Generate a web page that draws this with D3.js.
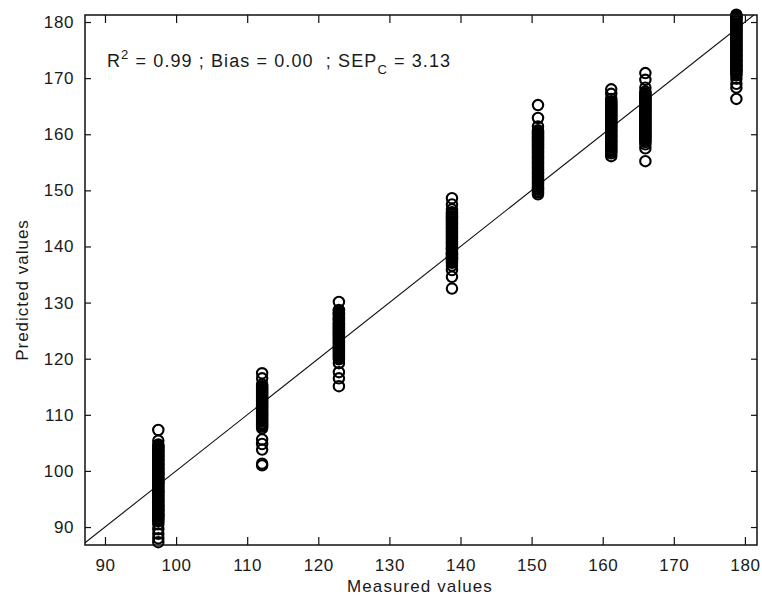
<!DOCTYPE html>
<html>
<head>
<meta charset="utf-8">
<script src="https://cdn.jsdelivr.net/npm/d3@7"></script>
<style>
  html, body { margin: 0; padding: 0; background: #fff; }
  svg { display: block; }
  text { font-family: "Liberation Sans", Arial, sans-serif; fill: #1a1a1a; }
</style>
</head>
<body>
<svg id="chart" width="762" height="599"></svg>
<script>
// Reference (measured) levels and the predicted values observed at each level
const measuredLevels = [97.5, 112.1, 122.9, 138.8, 150.9, 161.2, 166.0, 178.8];

const predictedAt97 = [107.3, 105.4, 104.7, 104.5, 104.2, 104.1, 103.8, 103.5, 103.4, 103.1, 102.9, 102.6,
  102.5, 102.2, 102.0, 101.8, 101.5, 101.3, 101.1, 100.9, 100.6, 100.4, 100.2, 99.9, 99.7, 99.5, 99.3, 99.0,
  98.8, 98.6, 98.3, 98.1, 97.9, 97.7, 97.4, 97.2, 97.0, 96.7, 96.5, 96.3, 96.1, 95.8, 95.6, 95.4, 95.1, 94.9,
  94.7, 94.5, 94.2, 94.0, 93.8, 93.6, 93.3, 93.1, 92.9, 92.7, 92.4, 92.2, 92.0, 91.8, 91.5, 91.3, 91.0, 90.5,
  89.6, 88.8, 88.0, 87.3];
const predictedAt112 = [117.4, 116.5, 115.4, 115.1, 114.9, 114.7, 114.4, 114.2, 114.0, 113.7, 113.5, 113.3,
  113.1, 112.8, 112.6, 112.4, 112.2, 111.9, 111.7, 111.5, 111.3, 111.0, 110.8, 110.6, 110.3, 110.1, 109.9,
  109.7, 109.4, 109.2, 109.0, 108.8, 108.5, 108.3, 108.1, 107.9, 107.6, 105.6, 104.8, 103.8, 101.3, 101.0];
const predictedAt123 = [130.1, 128.7, 128.5, 128.2, 128.0, 127.8, 127.6, 127.3, 127.1, 126.9, 126.7, 126.4,
  126.2, 126.0, 125.8, 125.5, 125.3, 125.1, 124.9, 124.6, 124.4, 124.2, 124.0, 123.7, 123.5, 123.3, 123.1,
  122.8, 122.6, 122.4, 122.2, 121.9, 121.7, 121.5, 121.3, 121.0, 120.8, 120.6, 120.4, 120.1, 119.9, 119.2,
  117.6, 116.5, 115.1];
const predictedAt139 = [148.6, 147.5, 146.6, 146.1, 145.9, 145.7, 145.4, 145.2, 145.0, 144.8, 144.5, 144.3,
  144.1, 143.9, 143.6, 143.4, 143.2, 143.0, 142.7, 142.5, 142.3, 142.1, 141.8, 141.6, 141.4, 141.2, 140.9,
  140.7, 140.5, 140.3, 140.0, 139.8, 139.6, 139.4, 139.1, 138.9, 138.7, 138.5, 138.2, 138.0, 137.8, 137.6,
  137.3, 137.1, 136.6, 135.8, 134.6, 132.5];
const predictedAt151 = [165.2, 162.9, 161.4, 160.7, 160.4, 160.2, 160.0, 159.7, 159.5, 159.3, 159.1, 158.8,
  158.6, 158.4, 158.2, 157.9, 157.7, 157.5, 157.3, 157.0, 156.8, 156.6, 156.4, 156.1, 155.9, 155.7, 155.5,
  155.2, 155.0, 154.8, 154.6, 154.3, 154.1, 153.9, 153.7, 153.4, 153.2, 153.0, 152.8, 152.5, 152.3, 152.1,
  151.9, 151.6, 151.4, 151.2, 151.0, 150.7, 150.5, 150.3, 150.1, 149.8, 149.6, 149.3];
const predictedAt161 = [168.0, 167.2, 166.3, 165.9, 165.7, 165.4, 165.2, 165.0, 164.8, 164.5, 164.3, 164.1,
  163.9, 163.6, 163.4, 163.2, 163.0, 162.7, 162.5, 162.3, 162.1, 161.8, 161.6, 161.4, 161.2, 160.9, 160.7,
  160.5, 160.3, 160.0, 159.8, 159.6, 159.4, 159.1, 158.9, 158.7, 158.5, 158.2, 158.0, 157.8, 157.6, 157.3,
  157.1, 156.9, 156.6, 156.1];
const predictedAt166 = [170.9, 169.7, 168.3, 167.6, 167.3, 167.0, 166.8, 166.6, 166.3, 166.1, 165.9, 165.7,
  165.4, 165.2, 165.0, 164.8, 164.5, 164.3, 164.1, 163.9, 163.6, 163.4, 163.2, 163.0, 162.7, 162.5, 162.3,
  162.1, 161.8, 161.6, 161.4, 161.2, 160.9, 160.7, 160.5, 160.3, 160.0, 159.8, 159.6, 159.4, 159.1, 158.9,
  158.6, 158.2, 157.5, 155.2];
const predictedAt179 = [181.3, 181.1, 180.9, 180.7, 180.5, 180.3, 180.1, 179.8, 179.6, 179.4, 179.2, 178.9,
  178.7, 178.5, 178.3, 178.0, 177.8, 177.6, 177.4, 177.1, 176.9, 176.7, 176.5, 176.2, 176.0, 175.8, 175.6,
  175.3, 175.1, 174.9, 174.7, 174.4, 174.2, 174.0, 173.8, 173.5, 173.3, 173.1, 172.9, 172.6, 172.4, 172.2,
  172.0, 171.7, 171.5, 171.3, 171.1, 170.8, 170.5, 169.9, 169.0, 168.3, 166.3];

const predictedByLevel = [predictedAt97, predictedAt112, predictedAt123, predictedAt139,
  predictedAt151, predictedAt161, predictedAt166, predictedAt179];

const xTicks = [90, 100, 110, 120, 130, 140, 150, 160, 170, 180];
const yTicks = [90, 100, 110, 120, 130, 140, 150, 160, 170, 180];
const xDomain = [87.19, 181.7];
const yDomain = [86.8, 181.25];

const xTitle = "Measured values";
const yTitle = "Predicted values";

// Flatten into (measured, predicted) points
const points = [];
measuredLevels.forEach((m, i) => predictedByLevel[i].forEach(p => points.push({ m, p })));

const svg = d3.select("#chart");
const plot = { left: 85, right: 757, top: 15, bottom: 545 };

const x = d3.scaleLinear().domain(xDomain).range([plot.left, plot.right]);
const y = d3.scaleLinear().domain(yDomain).range([plot.bottom, plot.top]);

svg.append("rect").attr("width", 762).attr("height", 599).attr("fill", "#fff");

svg.append("defs").append("clipPath").attr("id", "plot-clip")
  .append("rect")
  .attr("x", plot.left).attr("y", plot.top)
  .attr("width", plot.right - plot.left).attr("height", plot.bottom - plot.top);

// 1:1 line
const lo = Math.max(xDomain[0], yDomain[0]);
const hi = Math.min(xDomain[1], yDomain[1]);
svg.append("line")
  .attr("clip-path", "url(#plot-clip)")
  .attr("x1", x(lo)).attr("y1", y(lo))
  .attr("x2", x(hi)).attr("y2", y(hi))
  .attr("stroke", "#111").attr("stroke-width", 1.1);

// Scatter markers (open circles)
svg.append("g")
  .selectAll("circle")
  .data(points)
  .join("circle")
  .attr("cx", d => x(d.m))
  .attr("cy", d => y(d.p))
  .attr("r", 5.2)
  .attr("fill", "none")
  .attr("stroke", "#000")
  .attr("stroke-width", 2.1);

// Axes: ticks point inward and are mirrored on the top and right sides
const fontSize = 17;
const xAxisB = d3.axisBottom(x).tickValues(xTicks).tickSize(-8).tickPadding(14).tickSizeOuter(0);
const xAxisT = d3.axisTop(x).tickValues(xTicks).tickSize(-8).tickFormat("").tickSizeOuter(0);
const yAxisL = d3.axisLeft(y).tickValues(yTicks).tickSize(-6).tickPadding(11).tickSizeOuter(0);
const yAxisR = d3.axisRight(y).tickValues(yTicks).tickSize(-6).tickFormat("").tickSizeOuter(0);

function styleAxis(g) {
  g.select(".domain").remove();
  g.selectAll(".tick line").attr("stroke", "#111").attr("stroke-width", 1.2);
  g.selectAll(".tick text")
    .attr("font-size", fontSize)
    .attr("font-family", "Liberation Sans, Arial, sans-serif")
    .attr("letter-spacing", 0.6)
    .attr("fill", "#1a1a1a");
}

svg.append("g").attr("transform", `translate(0,${plot.bottom})`).call(xAxisB).call(styleAxis);
svg.append("g").attr("transform", `translate(0,${plot.top})`).call(xAxisT).call(styleAxis);
svg.append("g").attr("transform", `translate(${plot.left},0)`).call(yAxisL).call(styleAxis);
svg.append("g").attr("transform", `translate(${plot.right},0)`).call(yAxisR).call(styleAxis);

// Box
svg.append("rect")
  .attr("x", plot.left).attr("y", plot.top)
  .attr("width", plot.right - plot.left).attr("height", plot.bottom - plot.top)
  .attr("fill", "none").attr("stroke", "#111").attr("stroke-width", 1.5);

// Axis titles
svg.append("text")
  .attr("x", 420)
  .attr("y", 592)
  .attr("text-anchor", "middle")
  .attr("font-size", fontSize)
  .attr("letter-spacing", 1.1)
  .text(xTitle);

svg.append("text")
  .attr("transform", `translate(28,290) rotate(-90)`)
  .attr("text-anchor", "middle")
  .attr("font-size", fontSize)
  .attr("letter-spacing", 1.0)
  .text(yTitle);

// Statistics annotation
const stats = svg.append("text")
  .attr("x", 107).attr("y", 67)
  .attr("font-size", 18)
  .attr("letter-spacing", 1.1)
  .style("white-space", "pre");
stats.append("tspan").text("R");
stats.append("tspan").attr("dy", -8).attr("font-size", 13).text("2");
stats.append("tspan").attr("dy", 8).text(" = 0.99 ; Bias = 0.00  ; SEP");
stats.append("tspan").attr("dy", 7).attr("font-size", 13).text("C");
stats.append("tspan").attr("dy", -7).text(" = 3.13");
</script>
</body>
</html>
